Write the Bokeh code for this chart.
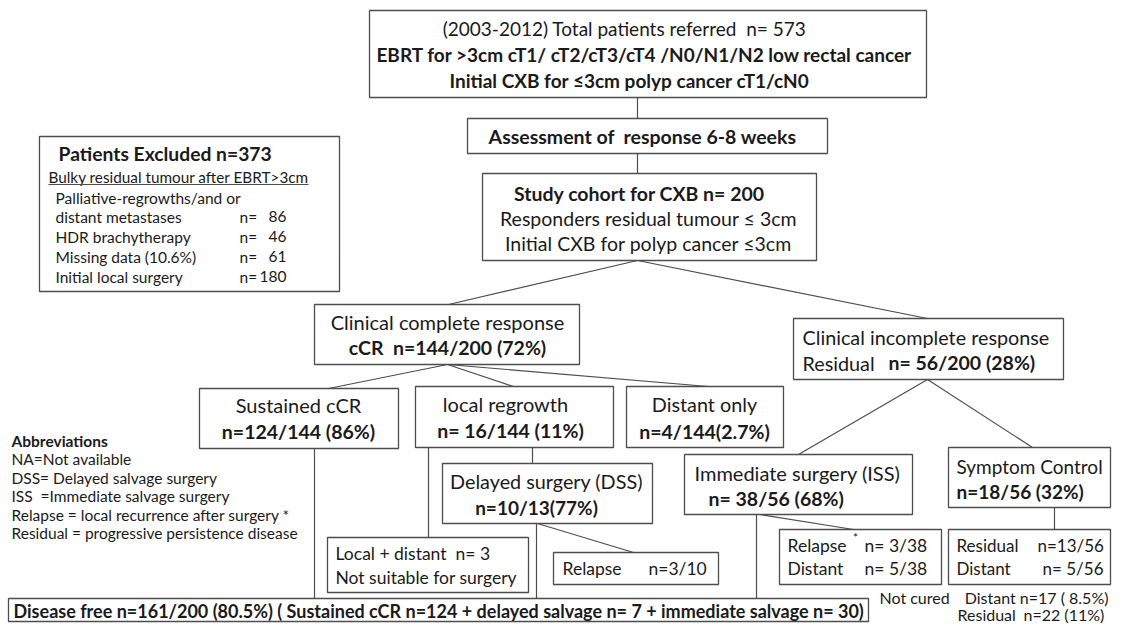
from bokeh.plotting import figure
from bokeh.models import Range1d
from bokeh.embed import file_html
from bokeh.resources import INLINE
from bokeh.core.properties import value

# ---------------- data (texts and counts) ----------------
total_referred = 573
cohort_n = 200
excluded_n = 373
top_lines = ["(2003-2012) Total patients referred\u00a0 n= %d" % total_referred,
             "EBRT for >3cm cT1/ cT2/cT3/cT4 /N0/N1/N2 low rectal cancer",
             "Initial CXB for \u22643cm polyp cancer cT1/cN0"]
assess_text = "Assessment of\u00a0 response 6-8 weeks"
cohort_lines = ["Study cohort for CXB n= %d" % cohort_n,
                "Responders residual tumour \u2264 3cm",
                "Initial CXB for polyp cancer \u22643cm"]
excluded_title = "Patients Excluded n=%d" % excluded_n
excluded_sub = "Bulky residual tumour after EBRT>3cm"
excluded_first = "Palliative-regrowths/and or"
excluded_items = ["distant metastases", "HDR brachytherapy", "Missing data (10.6%)", "Initial local surgery"]
excluded_counts = [86, 46, 61, 180]

ccr_title = "Clinical complete response"
ccr_count = "cCR\u00a0 n=144/200 (72%)"
icr_title = "Clinical incomplete response"
icr_label = "Residual"
icr_count = "n= 56/200 (28%)"
sus_title = "Sustained cCR"
sus_count = "n=124/144 (86%)"
reg_title = "local regrowth"
reg_count = "n= 16/144 (11%)"
dist_title = "Distant only"
dist_count = "n=4/144(2.7%)"
dss_title = "Delayed surgery (DSS)"
dss_count = "n=10/13(77%)"
ld_lines = ["Local + distant\u00a0 n= 3", "Not suitable for surgery"]
dss_relapse = ["Relapse", "n=3/10"]
iss_title = "Immediate surgery (ISS)"
iss_count = "n= 38/56 (68%)"
sym_title = "Symptom Control"
sym_count = "n=18/56 (32%)"
iss_out_labels = ["Relapse", "Distant"]
iss_out_counts = ["n= 3/38", "n= 5/38"]
sym_out_labels = ["Residual", "Distant"]
sym_out_counts = ["n=13/56", "5/56"]
abbrev_title = "Abbreviations"
abbrev_lines = ["NA=Not available",
                "DSS= Delayed salvage surgery",
                "ISS\u00a0 =Immediate salvage surgery",
                "Relapse = local recurrence after surgery *",
                "Residual = progressive persistence disease"]
disease_free = "Disease free n=161/200 (80.5%) ( Sustained cCR n=124 + delayed salvage n= 7 + immediate salvage n= 30)"
not_cured = ["Not cured", "Distant n=17 ( 8.5%)", "Residual", "n=22 (11%)"]

# ---------------- layout ----------------
FONT = "Lato"
LC = "#4d4d4d"
TC = "#1a1a1a"

p = figure(width=1112, height=623, x_range=Range1d(0, 1112), y_range=Range1d(623, 0),
           output_backend="svg", toolbar_location=None, min_border=0)
p.axis.visible = False
p.grid.visible = False
p.outline_line_color = None
p.background_fill_color = "white"
p.border_fill_color = "white"


def box(l, r, t, b):
    p.quad(left=[l], right=[r], top=[t], bottom=[b], fill_color="white",
           line_color=LC, line_width=1.3)


def seg(x0, y0, x1, y1):
    p.segment(x0=[x0], y0=[y0], x1=[x1], y1=[y1], line_color=LC, line_width=1.2)


def txt(x, y, s, size, bold=False, align="left"):
    p.text(x=[x], y=[y], text=[s], text_font=value(FONT), text_font_size="%gpx" % size,
           text_font_style="bold" if bold else "normal", text_align=align,
           text_baseline="middle", text_color=TC)


DF_TOP = 598

# connectors (drawn first, boxes on top)
seg(637, 97, 637, 118)
seg(637, 153, 637, 173)
seg(637, 260, 448, 304)
seg(637, 260, 927, 318)
seg(447, 364, 328, 388)
seg(447, 364, 513, 386)
seg(447, 364, 708, 386)
seg(927, 379, 798, 454)
seg(927, 379, 1032, 447)
seg(314, 448, 314, DF_TOP)
seg(428, 447, 428, 537)
seg(532, 447, 532, 463)
seg(536, 523, 536, DF_TOP)
seg(537, 523, 633, 552)
seg(756, 514, 756, DF_TOP)
seg(759, 514, 853, 529)
seg(1054, 507, 1054, 529)

# top box
box(369, 926, 10, 97)
txt(624, 28, top_lines[0], 19, False, "center")
txt(644, 54, top_lines[1], 19, True, "center")
txt(629, 80, top_lines[2], 19, True, "center")

# assessment
box(467, 827, 118, 153)
txt(642, 136, assess_text, 19.5, True, "center")

# cohort
box(482, 816, 173, 260)
txt(639, 193, cohort_lines[0], 19.5, True, "center")
txt(648, 218, cohort_lines[1], 19.5, False, "center")
txt(648, 243, cohort_lines[2], 19.5, False, "center")

# excluded
box(39, 339, 136, 291)
txt(58, 153, excluded_title, 19.3, True)
txt(48, 176, excluded_sub, 15.3)
seg(48, 184, 308, 184)
txt(55, 197, excluded_first, 15.5)
for i, (lab, cnt) in enumerate(zip(excluded_items, excluded_counts)):
    yy = 216 + 20 * i
    txt(55, yy, lab, 15.5)
    txt(239, yy, "n=", 15.5)
    txt(286, yy, str(cnt), 15.5, False, "right")

# cCR
box(314, 579, 304, 364)
txt(447, 321, ccr_title, 20, False, "center")
txt(447, 347, ccr_count, 19.5, True, "center")

# incomplete
box(793, 1063, 318, 379)
txt(802, 336, icr_title, 19.8)
txt(802, 362, icr_label, 19.8)
txt(888, 362, icr_count, 19.5, True)

# sustained
box(199, 398, 388, 448)
txt(298, 404, sus_title, 20, False, "center")
txt(298, 431, sus_count, 19.5, True, "center")

# local regrowth
box(415, 613, 386, 447)
txt(505, 403, reg_title, 20, False, "center")
txt(510, 430, reg_count, 19.5, True, "center")

# distant only
box(626, 783, 386, 447)
txt(704, 403, dist_title, 19.8, False, "center")
txt(704, 431, dist_count, 19.5, True, "center")

# DSS
box(442, 652, 463, 523)
txt(546, 480, dss_title, 19.8, False, "center")
txt(536, 507, dss_count, 19, True, "center")

# local + distant
box(327, 528, 537, 592)
txt(335, 553, ld_lines[0], 17.5)
txt(335, 577, ld_lines[1], 17.5)

# DSS relapse
box(553, 718, 552, 584)
txt(562, 568, dss_relapse[0], 17.5)
txt(648, 568, dss_relapse[1], 17.5)

# ISS
box(684, 912, 454, 514)
txt(694, 472, iss_title, 20)
txt(708, 498, iss_count, 19.5, True)

# symptom control
box(948, 1110, 447, 507)
txt(956, 466, sym_title, 19)
txt(956, 491, sym_count, 19, True)

# ISS outcomes
box(779, 941, 529, 584)
txt(787, 545, iss_out_labels[0], 17.5)
txt(855, 537, "*", 12, False, "center")
txt(864, 545, iss_out_counts[0], 17.5)
txt(787, 568, iss_out_labels[1], 17.5)
txt(864, 568, iss_out_counts[1], 17.5)

# symptom outcomes
box(948, 1110, 529, 584)
txt(956, 545, sym_out_labels[0], 17)
txt(1037, 545, sym_out_counts[0], 17)
txt(956, 568, sym_out_labels[1], 17)
txt(1042, 568, "n=", 17)
txt(1103, 568, sym_out_counts[1], 17, False, "right")

# abbreviations
txt(11, 440, abbrev_title, 15.5, True)
for i, s in enumerate(abbrev_lines):
    txt(11, 458.5 + 18.5 * i, s, 15.5)

# disease free
box(8, 868, DF_TOP, 621)
txt(13, 610, disease_free, 18, True)

# not cured
txt(879, 597, not_cured[0], 16)
txt(1108, 597, not_cured[1], 16, False, "right")
txt(957, 614, not_cured[2], 16)
txt(1023, 614, not_cured[3], 16)

open("out.html", "w").write(file_html(p, INLINE))
